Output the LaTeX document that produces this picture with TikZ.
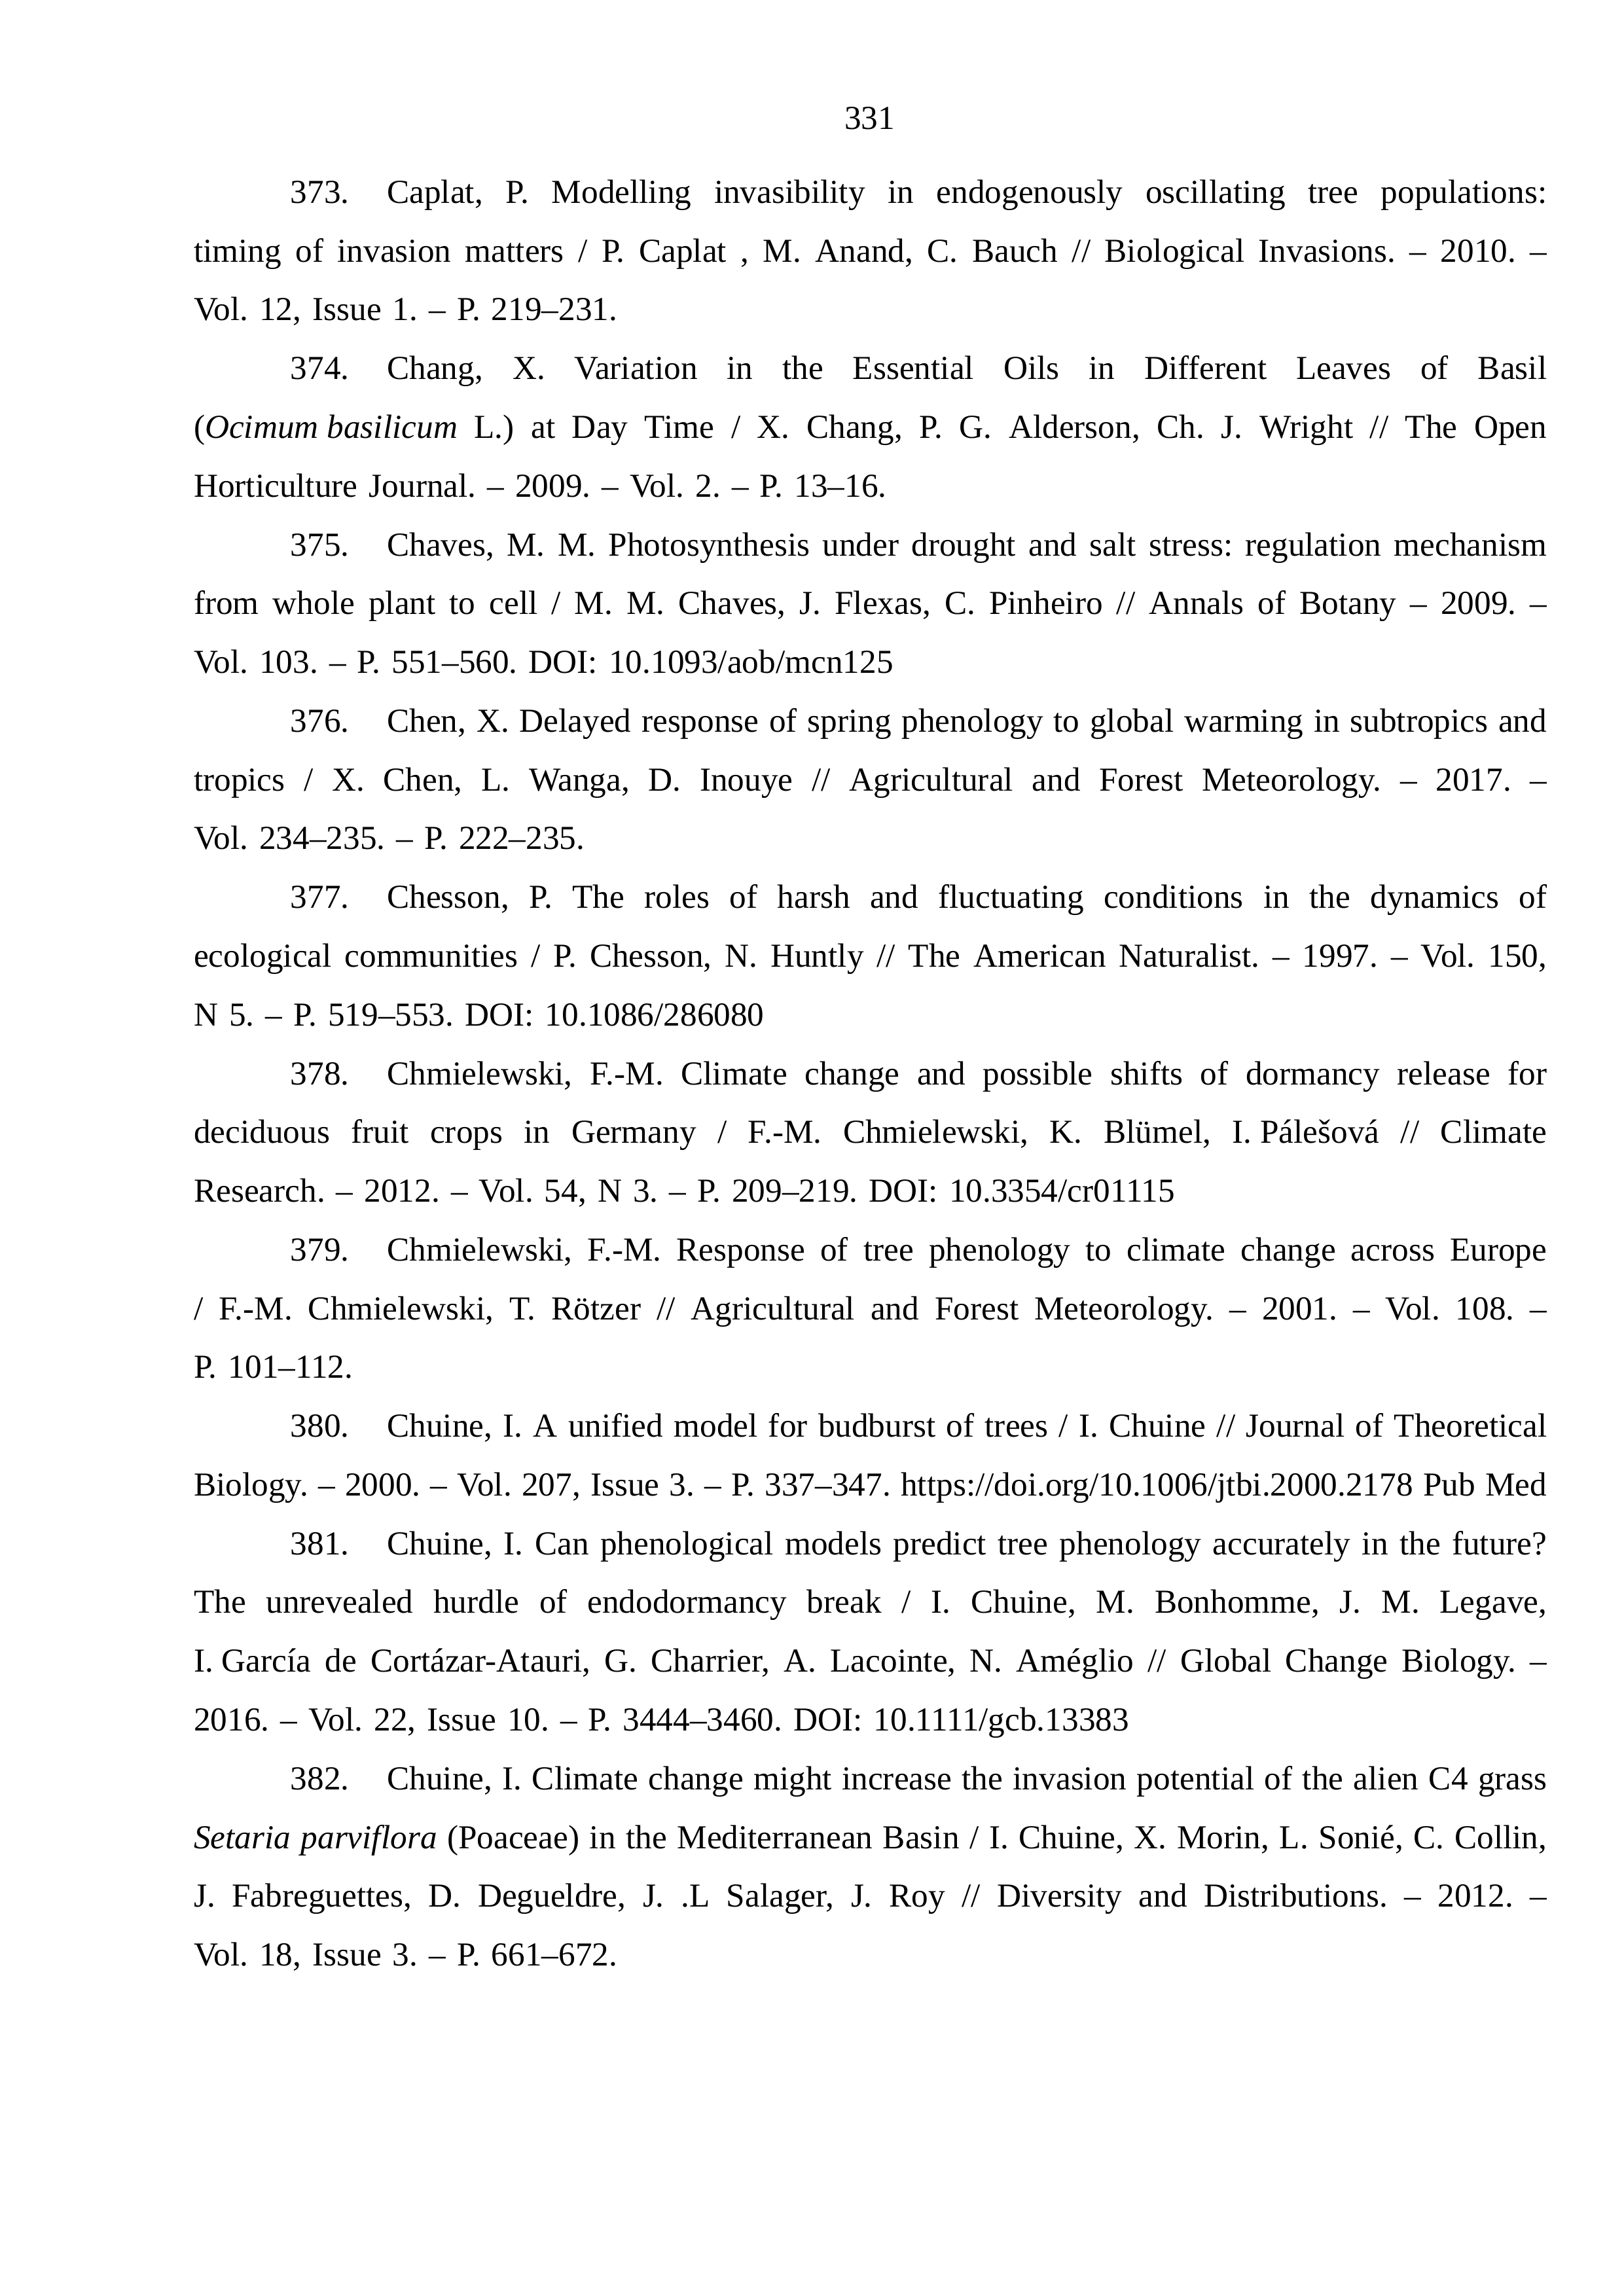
\documentclass[tikz,border=0pt]{standalone}
\usepackage{fontspec}
\setmainfont{Liberation Serif}
\newdimen\entrywidth \entrywidth=17.5cm
\newcommand{\fullline}[1]{\noindent{\spaceskip=.25em plus .5em minus .1em\relax
  \makebox[\entrywidth][s]{#1}}\par}
\newcommand{\plainline}[1]{\noindent\mbox{#1}\par}
\newcommand{\refnum}[1]{\hbox to 2.5cm{\hskip1.25cm #1\hfil}}
\tikzset{
  entry/.style={anchor=base west, inner sep=0pt, text width=\entrywidth,
    font=\fontsize{12.35}{21.6}\selectfont\frenchspacing},
}
\begin{document}
\begin{tikzpicture}
  \useasboundingbox[fill=white] (0,0) rectangle (21,-29.7);
  \node[anchor=base, inner sep=0pt, font=\fontsize{12.35}{21.6}\selectfont] (pagenum) at (11.25,-1.67) {331};
  % entries, one line = 0.76
  \node[entry] (r373) at (2.5,-2.63) {%
    \fullline{\refnum{373.}Caplat, P. Modelling invasibility in endogenously oscillating tree populations:}
    \fullline{timing of invasion matters / P. Caplat , M. Anand, C. Bauch // Biological Invasions. – 2010. –}
    \plainline{Vol. 12, Issue 1. – P. 219–231.}};
  \node[entry] (r374) at (2.5,-4.91) {%
    \fullline{\refnum{374.}Chang, X. Variation in the Essential Oils in Different Leaves of Basil}
    \fullline{(\mbox{\itshape Ocimum basilicum} L.) at Day Time / X. Chang, P. G. Alderson, Ch. J. Wright // The Open}
    \plainline{Horticulture Journal. – 2009. – Vol. 2. – P. 13–16.}};
  \node[entry] (r375) at (2.5,-7.19) {%
    \fullline{\refnum{375.}Chaves, M. M. Photosynthesis under drought and salt stress: regulation mechanism}
    \fullline{from whole plant to cell / M. M. Chaves, J. Flexas, C. Pinheiro // Annals of Botany – 2009. –}
    \plainline{Vol. 103. – P. 551–560. DOI: 10.1093/aob/mcn125}};
  \node[entry] (r376) at (2.5,-9.47) {%
    \fullline{\refnum{376.}Chen, X. Delayed response of spring phenology to global warming in subtropics and}
    \fullline{tropics / X. Chen, L. Wanga, D. Inouye // Agricultural and Forest Meteorology. – 2017. –}
    \plainline{Vol. 234–235. – P. 222–235.}};
  \node[entry] (r377) at (2.5,-11.75) {%
    \fullline{\refnum{377.}Chesson, P. The roles of harsh and fluctuating conditions in the dynamics of}
    \fullline{ecological communities / P. Chesson, N. Huntly // The American Naturalist. – 1997. – Vol. 150,}
    \plainline{N 5. – P. 519–553. DOI: 10.1086/286080}};
  \node[entry] (r378) at (2.5,-14.03) {%
    \fullline{\refnum{378.}Chmielewski, F.-M. Climate change and possible shifts of dormancy release for}
    \fullline{deciduous fruit crops in Germany / F.-M. Chmielewski, K. Blümel, \mbox{I. Pálešová} // Climate}
    \plainline{Research. – 2012. – Vol. 54, N 3. – P. 209–219. DOI: 10.3354/cr01115}};
  \node[entry] (r379) at (2.5,-16.31) {%
    \fullline{\refnum{379.}Chmielewski, F.-M. Response of tree phenology to climate change across Europe}
    \fullline{/ F.-M. Chmielewski, T. Rötzer // Agricultural and Forest Meteorology. – 2001. – Vol. 108. –}
    \plainline{P. 101–112.}};
  \node[entry] (r380) at (2.5,-18.59) {%
    \fullline{\refnum{380.}Chuine, I. A unified model for budburst of trees / I. Chuine // Journal of Theoretical}
    \fullline{Biology. – 2000. – Vol. 207, Issue 3. – P. 337–347. https://doi.org/10.1006/jtbi.2000.2178 Pub Med}};
  \node[entry] (r381) at (2.5,-20.11) {%
    \fullline{\refnum{381.}Chuine, I. Can phenological models predict tree phenology accurately in the future?}
    \fullline{The unrevealed hurdle of endodormancy break / I. Chuine, M. Bonhomme, J. M. Legave,}
    \fullline{\mbox{I. García} de Cortázar-Atauri, G. Charrier, A. Lacointe, N. Améglio // Global Change Biology. –}
    \plainline{2016. – Vol. 22, Issue 10. – P. 3444–3460. DOI: 10.1111/gcb.13383}};
  \node[entry] (r382) at (2.5,-23.15) {%
    \fullline{\refnum{382.}Chuine, I. Climate change might increase the invasion potential of the alien C4 grass}
    \fullline{\textit{Setaria parviflora} (Poaceae) in the Mediterranean Basin / I. Chuine, X. Morin, L. Sonié, C. Collin,}
    \fullline{J. Fabreguettes, D. Degueldre, J. .L Salager, J. Roy // Diversity and Distributions. – 2012. –}
    \plainline{Vol. 18, Issue 3. – P. 661–672.}};
\end{tikzpicture}
\end{document}
